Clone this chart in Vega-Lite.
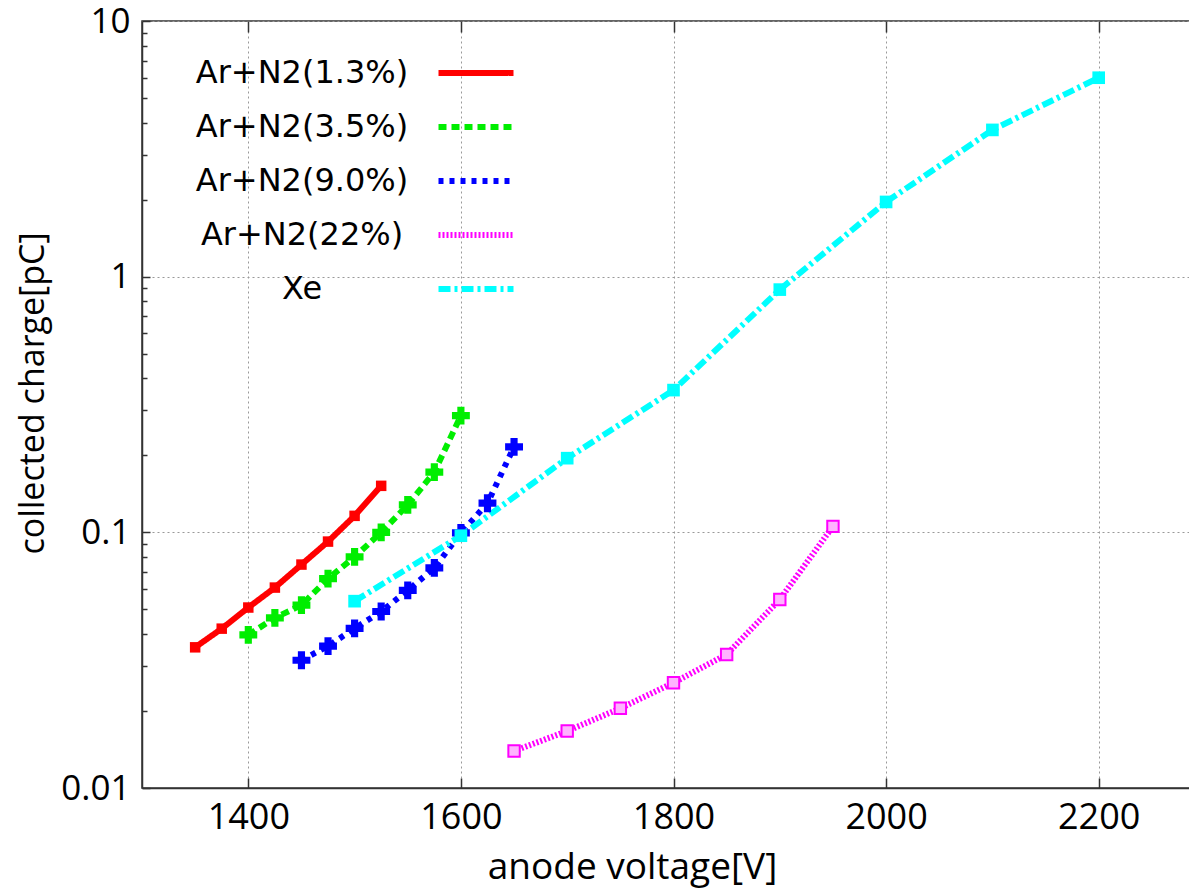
{
  "$schema": "https://vega.github.io/schema/vega-lite/v6.json",
  "width": 1063,
  "height": 767,
  "autosize": {"type": "none"},
  "padding": {"left": 142, "top": 21, "right": 0, "bottom": 101},
  "background": "white",
  "config": {
    "view": {"stroke": "#333", "strokeWidth": 1.5},
    "font": "Open Sans",
    "axis": {"labelColor": "#000", "titleColor": "#000", "domainColor": "#333", "tickColor": "#333", "domainWidth": 1.5, "tickWidth": 1.5, "titleFontWeight": "normal"}
  },
  "data": {"values": [
    {"s": "Ar+N2(1.3%)", "v": 1350, "q": 0.0355},
    {"s": "Ar+N2(1.3%)", "v": 1375, "q": 0.042},
    {"s": "Ar+N2(1.3%)", "v": 1400, "q": 0.0508},
    {"s": "Ar+N2(1.3%)", "v": 1425, "q": 0.0608},
    {"s": "Ar+N2(1.3%)", "v": 1450, "q": 0.0748},
    {"s": "Ar+N2(1.3%)", "v": 1475, "q": 0.092},
    {"s": "Ar+N2(1.3%)", "v": 1500, "q": 0.116},
    {"s": "Ar+N2(1.3%)", "v": 1525, "q": 0.152},
    {"s": "Ar+N2(3.5%)", "v": 1400, "q": 0.0397},
    {"s": "Ar+N2(3.5%)", "v": 1425, "q": 0.0463},
    {"s": "Ar+N2(3.5%)", "v": 1450, "q": 0.0519},
    {"s": "Ar+N2(3.5%)", "v": 1475, "q": 0.0659},
    {"s": "Ar+N2(3.5%)", "v": 1500, "q": 0.0802},
    {"s": "Ar+N2(3.5%)", "v": 1525, "q": 0.100},
    {"s": "Ar+N2(3.5%)", "v": 1550, "q": 0.128},
    {"s": "Ar+N2(3.5%)", "v": 1575, "q": 0.172},
    {"s": "Ar+N2(3.5%)", "v": 1600, "q": 0.286},
    {"s": "Ar+N2(9.0%)", "v": 1450, "q": 0.0316},
    {"s": "Ar+N2(9.0%)", "v": 1475, "q": 0.0359},
    {"s": "Ar+N2(9.0%)", "v": 1500, "q": 0.0421},
    {"s": "Ar+N2(9.0%)", "v": 1525, "q": 0.049},
    {"s": "Ar+N2(9.0%)", "v": 1550, "q": 0.0593},
    {"s": "Ar+N2(9.0%)", "v": 1575, "q": 0.0726},
    {"s": "Ar+N2(9.0%)", "v": 1600, "q": 0.0995},
    {"s": "Ar+N2(9.0%)", "v": 1625, "q": 0.130},
    {"s": "Ar+N2(9.0%)", "v": 1650, "q": 0.216},
    {"s": "Ar+N2(22%)", "v": 1650, "q": 0.01395},
    {"s": "Ar+N2(22%)", "v": 1700, "q": 0.0167},
    {"s": "Ar+N2(22%)", "v": 1750, "q": 0.0205},
    {"s": "Ar+N2(22%)", "v": 1800, "q": 0.0258},
    {"s": "Ar+N2(22%)", "v": 1850, "q": 0.0333},
    {"s": "Ar+N2(22%)", "v": 1900, "q": 0.0546},
    {"s": "Ar+N2(22%)", "v": 1950, "q": 0.1055},
    {"s": "Xe", "v": 1500, "q": 0.0538},
    {"s": "Xe", "v": 1600, "q": 0.097},
    {"s": "Xe", "v": 1700, "q": 0.195},
    {"s": "Xe", "v": 1800, "q": 0.36},
    {"s": "Xe", "v": 1900, "q": 0.89},
    {"s": "Xe", "v": 2000, "q": 1.96},
    {"s": "Xe", "v": 2100, "q": 3.75},
    {"s": "Xe", "v": 2200, "q": 6.0}
  ]},
  "layer": [
    {
      "mark": {"type": "line", "strokeWidth": 6, "strokeCap": "butt"},
      "encoding": {
        "x": {"field": "v", "type": "quantitative",
          "scale": {"domain": [1300, 2300], "nice": false, "zero": false},
          "axis": {"orient": "bottom", "values": [1400, 1600, 1800, 2000, 2200], "format": "d",
            "title": "anode voltage[V]", "titleFontSize": 37, "titleX": 490, "titleY": 90, "titleBaseline": "alphabetic", "titleAnchor": "middle",
            "labelFontSize": 36, "labelPadding": 22, "tickSize": -10,
            "grid": true, "gridDash": [2, 3], "gridColor": "#999", "gridWidth": 1}},
        "y": {"field": "q", "type": "quantitative",
          "scale": {"type": "log", "domain": [0.01, 10], "nice": false},
          "axis": {"orient": "left",
            "values": [0.01, 0.02, 0.03, 0.04, 0.05, 0.06, 0.07, 0.08, 0.09, 0.1, 0.2, 0.3, 0.4, 0.5, 0.6, 0.7, 0.8, 0.9, 1, 2, 3, 4, 5, 6, 7, 8, 9, 10],
            "format": ".2~f",
            "labelExpr": "indexof([0.01, 0.1, 1, 10], datum.value) >= 0 ? datum.label : ''",
            "labelFontSize": 35, "labelPadding": 20,
            "tickSize": {"condition": {"test": "indexof([0.01, 0.1, 1, 10], datum.value) >= 0", "value": -8}, "value": -5},
            "grid": true, "gridDash": [2, 3], "gridColor": "#999", "gridWidth": 1,
            "gridOpacity": {"condition": {"test": "indexof([0.01, 0.1, 1, 10], datum.value) >= 0", "value": 1}, "value": 0},
            "title": "collected charge[pC]", "titleFontSize": 34, "titleX": -99, "titleY": 372, "titleBaseline": "alphabetic", "titleAngle": -90, "titleAlign": "center"}},
        "color": {"field": "s", "type": "nominal",
          "scale": {"domain": ["Ar+N2(1.3%)", "Ar+N2(3.5%)", "Ar+N2(9.0%)", "Ar+N2(22%)", "Xe"], "range": ["#ff0000", "#00ee00", "#0000ff", "#ff00ff", "#00ffff"]},
          "legend": {"orient": "none", "legendX": 318, "legendY": 36, "title": null, "symbolType": "M-3,0H3", "symbolSize": 625, "symbolStrokeWidth": 6, "rowPadding": 22, "labelFontSize": 32, "labelFont": "DejaVu Sans", "labelColor": "#000", "labelAlign": "center", "labelOffset": -190, "labelLimit": 500}},
        "strokeDash": {"field": "s", "type": "nominal",
          "scale": {"domain": ["Ar+N2(1.3%)", "Ar+N2(3.5%)", "Ar+N2(9.0%)", "Ar+N2(22%)", "Xe"], "range": [[1, 0], [8, 5], [5, 6], [2, 2], [12, 4, 3, 4]]},
          "legend": {"orient": "none", "legendX": 318, "legendY": 36, "title": null, "symbolType": "M-3,0H3", "symbolSize": 625, "symbolStrokeWidth": 6, "rowPadding": 22, "labelFontSize": 32, "labelFont": "DejaVu Sans", "labelColor": "#000", "labelAlign": "center", "labelOffset": -190, "labelLimit": 500}}
      }
    },
    {
      "transform": [{"filter": "datum.s == 'Ar+N2(1.3%)'"}],
      "mark": {"type": "point", "shape": "square", "filled": true, "color": "#ff0000", "size": 110, "opacity": 1},
      "encoding": {
        "x": {"field": "v", "type": "quantitative", "axis": null},
        "y": {"field": "q", "type": "quantitative"}
      }
    },
    {
      "transform": [{"filter": "datum.s == 'Ar+N2(3.5%)'"}],
      "mark": {"type": "point", "shape": "cross", "filled": true, "color": "#00ee00", "size": 320, "opacity": 1},
      "encoding": {
        "x": {"field": "v", "type": "quantitative", "axis": null},
        "y": {"field": "q", "type": "quantitative"}
      }
    },
    {
      "transform": [{"filter": "datum.s == 'Ar+N2(9.0%)'"}],
      "mark": {"type": "point", "shape": "cross", "filled": true, "color": "#0000ff", "size": 320, "opacity": 1},
      "encoding": {
        "x": {"field": "v", "type": "quantitative", "axis": null},
        "y": {"field": "q", "type": "quantitative"}
      }
    },
    {
      "transform": [{"filter": "datum.s == 'Ar+N2(22%)'"}],
      "mark": {"type": "point", "shape": "square", "fill": "#ffb3ff", "stroke": "#ff00ff", "strokeWidth": 2, "size": 130, "opacity": 1, "fillOpacity": 1},
      "encoding": {
        "x": {"field": "v", "type": "quantitative", "axis": null},
        "y": {"field": "q", "type": "quantitative"}
      }
    },
    {
      "transform": [{"filter": "datum.s == 'Xe'"}],
      "mark": {"type": "point", "shape": "square", "filled": true, "color": "#00ffff", "size": 160, "opacity": 1},
      "encoding": {
        "x": {"field": "v", "type": "quantitative", "axis": null},
        "y": {"field": "q", "type": "quantitative"}
      }
    },
    {
      "mark": {"type": "point", "opacity": 0},
      "encoding": {
        "x": {"field": "v", "type": "quantitative",
          "axis": {"orient": "top", "values": [1400, 1600, 1800, 2000, 2200], "labels": false, "title": null, "grid": false, "domain": false, "tickSize": -11}},
        "y": {"field": "q", "type": "quantitative"}
      }
    }
  ],
  "resolve": {"axis": {"x": "independent"}}
}
